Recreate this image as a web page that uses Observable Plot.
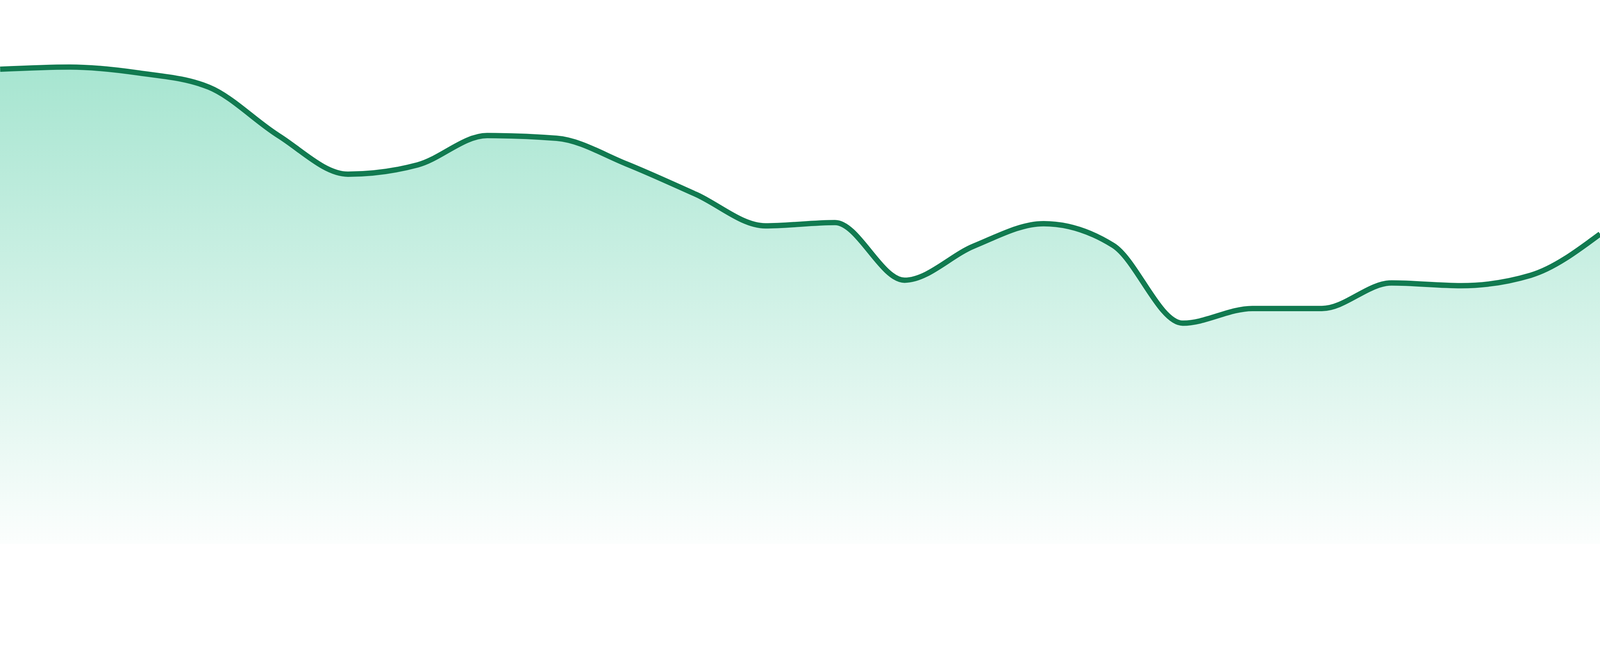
<!DOCTYPE html>
<html>
<head>
<meta charset="utf-8">
<script src="https://cdn.jsdelivr.net/npm/d3@7"></script>
<script src="https://cdn.jsdelivr.net/npm/@observablehq/plot@0.6"></script>
<style>
  html, body { margin: 0; padding: 0; background: #ffffff; overflow: hidden; }
  #chart svg { display: block; }
</style>
</head>
<body>
<div id="chart"></div>
<script>
// Data (24 evenly spaced periods)
const periods = [0,1,2,3,4,5,6,7,8,9,10,11,12,13,14,15,16,17,18,19,20,21,22,23];
const values  = [87.3,87.7,86.6,84.0,75.1,68.0,69.7,75.1,74.6,69.9,64.3,58.5,
                 59.1,48.5,54.8,58.9,54.9,40.6,43.3,43.3,48.0,47.5,49.4,57.0];

const data = periods.map((p, i) => ({period: p, value: values[i]}));

const lineColor = "#117a50";
const fillColor = "#10b981";

const plot = Plot.plot({
  width: 4800,
  height: 1680,
  marginTop: 0,
  marginBottom: 48,
  marginLeft: 0,
  marginRight: 0,
  x: {type: "linear", domain: [0, periods.length - 1], axis: null},
  y: {domain: [0, 100], axis: null},
  marks: [
    Plot.areaY(data, {x: "period", y: "value", curve: "monotone-x", fill: "url(#areaGrad)"}),
    Plot.lineY(data, {x: "period", y: "value", curve: "monotone-x", stroke: lineColor, strokeWidth: 16, strokeLinejoin: "round", strokeLinecap: "butt"})
  ]
});

const svg = d3.select(plot);
const defs = svg.insert("defs", ":first-child");
const grad = defs.append("linearGradient")
  .attr("id", "areaGrad")
  .attr("x1", 0).attr("y1", 0).attr("x2", 0).attr("y2", 1);
grad.append("stop").attr("offset", "0%").attr("stop-color", fillColor).attr("stop-opacity", 0.37);
grad.append("stop").attr("offset", "100%").attr("stop-color", fillColor).attr("stop-opacity", 0.015);

document.getElementById("chart").appendChild(plot);
</script>
</body>
</html>
